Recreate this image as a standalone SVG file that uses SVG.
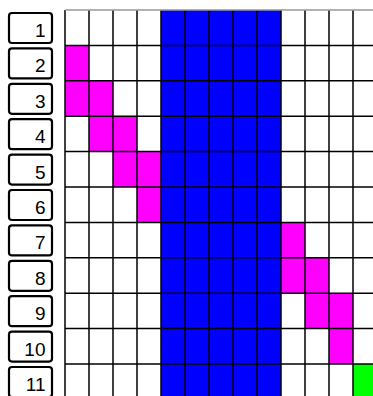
<svg xmlns="http://www.w3.org/2000/svg" width="373" height="396" viewBox="0 0 373 396">
<style>
.lbl rect{fill:#fff;stroke:#000;stroke-width:2.2}
.lbl text{font-family:"Liberation Sans",Arial,sans-serif;font-size:19px;text-anchor:end;fill:#000}
.m{fill:#ff00ff}
.g{fill:#00ff00}
.b{fill:#0000ff}
.gl{stroke:#000;stroke-width:1.5}
</style>
<rect width="373" height="396" fill="#fff"/>
<g id="labels">
<g id="label1" class="lbl"><rect x="9" y="13" width="43" height="30" rx="3"/><text x="45.5" y="37">1</text></g>
<g id="label2" class="lbl"><rect x="9" y="48.4" width="43" height="30" rx="3"/><text x="45.5" y="72.4">2</text></g>
<g id="label3" class="lbl"><rect x="9" y="83.8" width="43" height="30" rx="3"/><text x="45.5" y="107.8">3</text></g>
<g id="label4" class="lbl"><rect x="9" y="119.2" width="43" height="30" rx="3"/><text x="45.5" y="143.2">4</text></g>
<g id="label5" class="lbl"><rect x="9" y="154.6" width="43" height="30" rx="3"/><text x="45.5" y="178.6">5</text></g>
<g id="label6" class="lbl"><rect x="9" y="190" width="43" height="30" rx="3"/><text x="45.5" y="214">6</text></g>
<g id="label7" class="lbl"><rect x="9" y="225.4" width="43" height="30" rx="3"/><text x="45.5" y="249.4">7</text></g>
<g id="label8" class="lbl"><rect x="9" y="260.8" width="43" height="30" rx="3"/><text x="45.5" y="284.8">8</text></g>
<g id="label9" class="lbl"><rect x="9" y="296.2" width="43" height="30" rx="3"/><text x="45.5" y="320.2">9</text></g>
<g id="label10" class="lbl"><rect x="9" y="331.6" width="43" height="30" rx="3"/><text x="45.5" y="355.6">10</text></g>
<g id="label11" class="lbl"><rect x="9" y="367" width="43" height="30" rx="3"/><text x="45.5" y="391">11</text></g>
</g>
<g id="cells">
<rect class="b" x="161" y="10" width="120" height="390"/>
<rect class="m" x="65" y="45.4" width="24" height="35.4"/>
<rect class="m" x="65" y="80.8" width="48" height="35.4"/>
<rect class="m" x="89" y="116.2" width="48" height="35.4"/>
<rect class="m" x="113" y="151.6" width="48" height="35.4"/>
<rect class="m" x="137" y="187" width="24" height="35.4"/>
<rect class="m" x="281" y="222.4" width="24" height="35.4"/>
<rect class="m" x="281" y="257.8" width="48" height="35.4"/>
<rect class="m" x="305" y="293.2" width="48" height="35.4"/>
<rect class="m" x="329" y="328.6" width="24" height="35.4"/>
<rect class="g" x="353" y="364" width="24" height="35.4"/>
</g>
<g id="grid" class="gl">
<line x1="65" y1="10" x2="65" y2="396"/>
<line x1="89" y1="10" x2="89" y2="396"/>
<line x1="113" y1="10" x2="113" y2="396"/>
<line x1="137" y1="10" x2="137" y2="396"/>
<line x1="161" y1="10" x2="161" y2="396"/>
<line x1="185" y1="10" x2="185" y2="396"/>
<line x1="209" y1="10" x2="209" y2="396"/>
<line x1="233" y1="10" x2="233" y2="396"/>
<line x1="257" y1="10" x2="257" y2="396"/>
<line x1="281" y1="10" x2="281" y2="396"/>
<line x1="305" y1="10" x2="305" y2="396"/>
<line x1="329" y1="10" x2="329" y2="396"/>
<line x1="353" y1="10" x2="353" y2="396"/>
<line x1="65" y1="10" x2="373" y2="10" stroke="#999"/>
<line x1="65" y1="45.4" x2="373" y2="45.4"/>
<line x1="65" y1="80.8" x2="373" y2="80.8"/>
<line x1="65" y1="116.2" x2="373" y2="116.2"/>
<line x1="65" y1="151.6" x2="373" y2="151.6"/>
<line x1="65" y1="187" x2="373" y2="187"/>
<line x1="65" y1="222.4" x2="373" y2="222.4"/>
<line x1="65" y1="257.8" x2="373" y2="257.8"/>
<line x1="65" y1="293.2" x2="373" y2="293.2"/>
<line x1="65" y1="328.6" x2="373" y2="328.6"/>
<line x1="65" y1="364" x2="373" y2="364"/>
</g>
</svg>
